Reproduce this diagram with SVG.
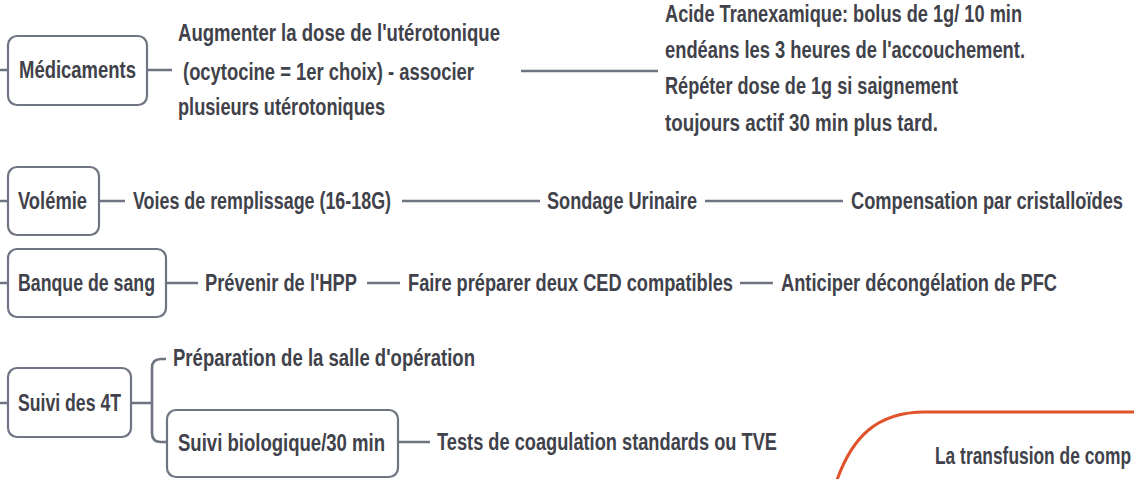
<svg xmlns="http://www.w3.org/2000/svg" width="1134" height="479" viewBox="0 0 1134 479">
<style>
.bg{fill:#ffffff}
.box{fill:#ffffff;stroke:#6f7482;stroke-width:2.2}
.ln{fill:none;stroke:#6f7482;stroke-width:2.6;stroke-linecap:butt}
.or{fill:none;stroke:#e0532a;stroke-width:3}
text{font-family:"Liberation Sans",Arial,sans-serif;font-size:23.5px;font-weight:bold;fill:#3f424a}
</style>
<rect class="bg" x="0" y="0" width="1134" height="479"/>
<g id="connectors">
<path class="ln" d="M0,70 H8 M147,70 H172 M521,71 H658"/>
<path class="ln" d="M0,201 H8 M99,201 H125 M402,201 H540 M705,201 H843"/>
<path class="ln" d="M0,283 H8 M166,283 H198 M367,283 H400 M740,283 H773"/>
<path class="ln" d="M0,403 H8 M131,403 H152 M166,359 H161 Q152,359 152,368 V433 Q152,442 161,442 H167 M398,442 H430"/>
</g>
<g id="n-medicaments"><rect class="box" x="8" y="36" width="139" height="69" rx="9"/><text x="19" y="78" textLength="117" lengthAdjust="spacingAndGlyphs">Médicaments</text></g>
<g id="n-augmenter">
<text x="178" y="41" textLength="322" lengthAdjust="spacingAndGlyphs">Augmenter la dose de l'utérotonique</text>
<text x="183" y="80" textLength="291" lengthAdjust="spacingAndGlyphs">(ocytocine = 1er choix) - associer</text>
<text x="178" y="115" textLength="207" lengthAdjust="spacingAndGlyphs">plusieurs utérotoniques</text>
</g>
<g id="n-acide">
<text x="665" y="22" textLength="357" lengthAdjust="spacingAndGlyphs">Acide Tranexamique: bolus de 1g/ 10 min</text>
<text x="665" y="58" textLength="360" lengthAdjust="spacingAndGlyphs">endéans les 3 heures de l'accouchement.</text>
<text x="665" y="94" textLength="293" lengthAdjust="spacingAndGlyphs">Répéter dose de 1g si saignement</text>
<text x="665" y="131" textLength="273" lengthAdjust="spacingAndGlyphs">toujours actif 30 min plus tard.</text>
</g>
<g id="n-volemie"><rect class="box" x="8" y="167" width="91" height="68" rx="9"/><text x="18" y="209" textLength="69" lengthAdjust="spacingAndGlyphs">Volémie</text></g>
<g id="n-voies"><text x="133" y="209" textLength="258" lengthAdjust="spacingAndGlyphs">Voies de remplissage (16-18G)</text></g>
<g id="n-sondage"><text x="547" y="209" textLength="150" lengthAdjust="spacingAndGlyphs">Sondage Urinaire</text></g>
<g id="n-compensation"><text x="851" y="209" textLength="272" lengthAdjust="spacingAndGlyphs">Compensation par cristalloïdes</text></g>
<g id="n-banque"><rect class="box" x="8" y="249" width="158" height="68" rx="9"/><text x="18" y="291" textLength="137" lengthAdjust="spacingAndGlyphs">Banque de sang</text></g>
<g id="n-prevenir"><text x="205" y="291" textLength="152" lengthAdjust="spacingAndGlyphs">Prévenir de l'HPP</text></g>
<g id="n-faire"><text x="408" y="291" textLength="325" lengthAdjust="spacingAndGlyphs">Faire préparer deux CED compatibles</text></g>
<g id="n-anticiper"><text x="781" y="291" textLength="276" lengthAdjust="spacingAndGlyphs">Anticiper décongélation de PFC</text></g>
<g id="n-suivi4t"><rect class="box" x="8" y="368" width="123" height="69" rx="9"/><text x="18" y="411" textLength="103" lengthAdjust="spacingAndGlyphs">Suivi des 4T</text></g>
<g id="n-preparation"><text x="173" y="366" textLength="302" lengthAdjust="spacingAndGlyphs">Préparation de la salle d'opération</text></g>
<g id="n-suivibio"><rect class="box" x="167" y="410" width="231" height="67" rx="9"/><text x="178" y="451" textLength="207" lengthAdjust="spacingAndGlyphs">Suivi biologique/30 min</text></g>
<g id="n-tests"><text x="437" y="450" textLength="340" lengthAdjust="spacingAndGlyphs">Tests de coagulation standards ou TVE</text></g>
<g id="n-transfusion">
<path class="or" d="M837,480 C852,438 876,412 925,412 H1136"/>
<text x="935" y="464" textLength="196" lengthAdjust="spacingAndGlyphs">La transfusion de comp</text>
</g>
</svg>
